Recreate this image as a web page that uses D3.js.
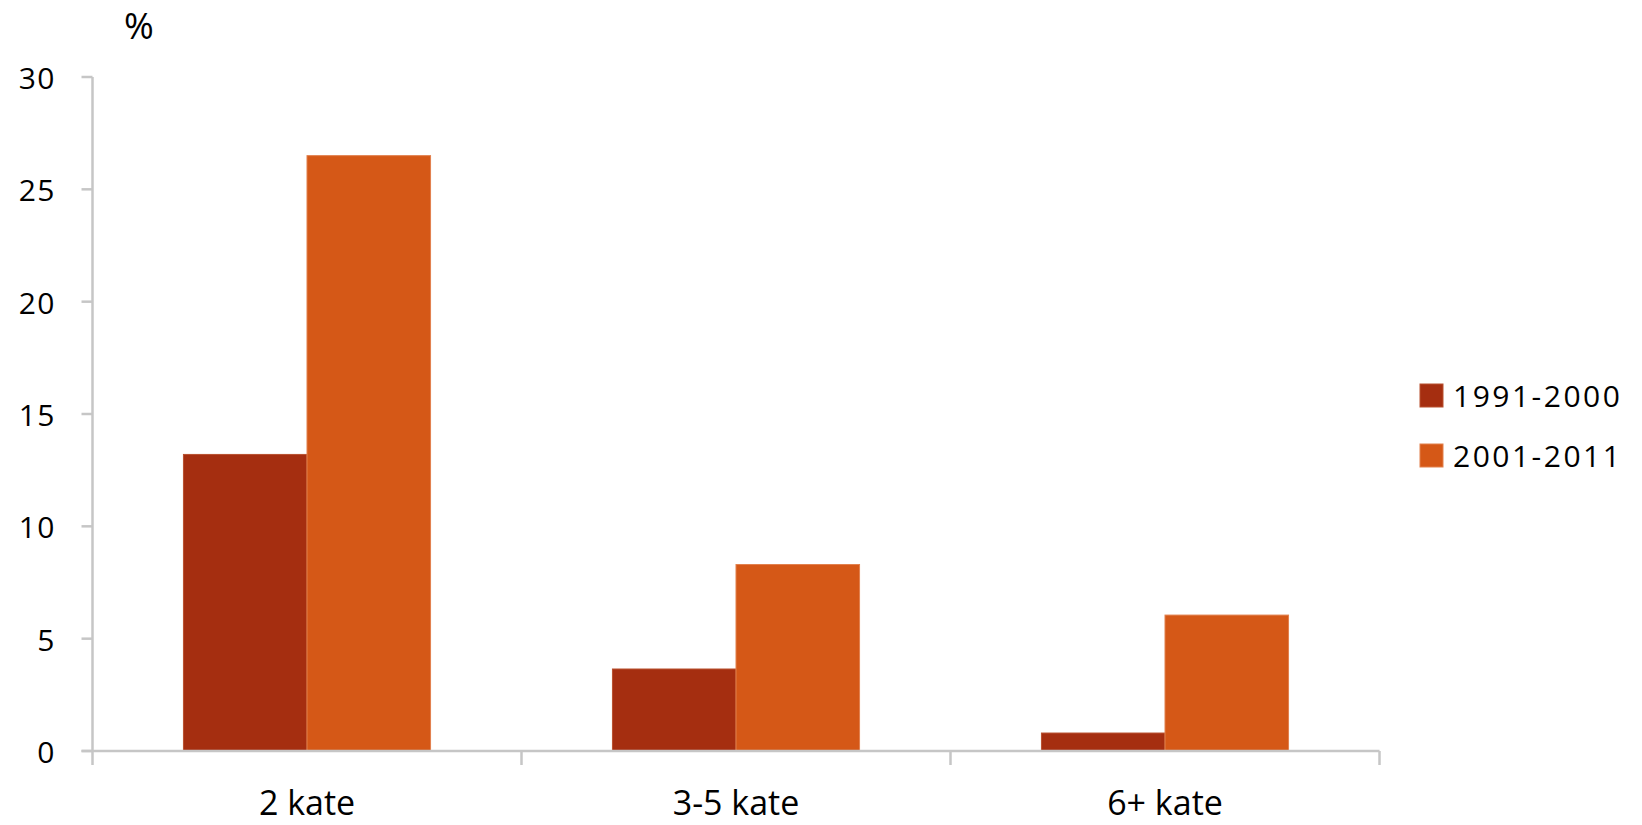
<!DOCTYPE html>
<html>
<head>
<meta charset="utf-8">
<script src="https://cdn.jsdelivr.net/npm/d3@7"></script>
<style>
  html, body { margin: 0; padding: 0; background: #fff; }
  svg { display: block; font-family: "Open Sans", "Noto Sans", sans-serif; }
</style>
</head>
<body>
<svg id="chart" width="1642" height="825"></svg>
<script>
const categories = ["2 kate", "3-5 kate", "6+ kate"];
const seriesNames = ["1991-2000", "2001-2011"];
const series1991 = [13.2, 3.65, 0.8];
const series2001 = [26.5, 8.3, 6.05];
const yTicks = [0, 5, 10, 15, 20, 25, 30];
const colors = ["#A52E10", "#D55817"];
const strokeColors = ["#B8502F", "#E2804D"];

(function () {
const svg = d3.select("#chart");
const plotLeft = 92.5, plotRight = 1379.5, plotTop = 77, plotBottom = 751;

const y = d3.scaleLinear().domain([0, 30]).range([plotBottom, plotTop]);
const xAll = d3.scaleBand().domain(categories).range([plotLeft, plotRight]).padding(0);
const x0 = d3.scaleBand().domain(categories).range([plotLeft, plotRight])
  .paddingInner(0.424).paddingOuter(0.212);
const x1 = d3.scaleBand().domain(seriesNames).range([0, x0.bandwidth()]).padding(0);

const gridColor = "#c6c6c6";

svg.append("line")
  .attr("x1", plotLeft).attr("x2", plotLeft)
  .attr("y1", y(30)).attr("y2", plotBottom + 14)
  .attr("stroke", gridColor).attr("stroke-width", 2.5);

svg.selectAll(".ytick").data(yTicks).enter().append("line")
  .attr("x1", plotLeft - 11).attr("x2", plotLeft)
  .attr("y1", d => y(d)).attr("y2", d => y(d))
  .attr("stroke", gridColor).attr("stroke-width", 2.5);

svg.selectAll(".ylab").data(yTicks).enter().append("text")
  .attr("x", 56).attr("y", d => y(d) + 12)
  .attr("text-anchor", "end")
  .attr("font-size", 30)
  .attr("font-weight", 500)
  .attr("letter-spacing", 1.5)
  .attr("fill", "#000")
  .text(d => d);

const rows = categories.map((c, i) => ({ cat: c, vals: [series1991[i], series2001[i]] }));
const groups = svg.selectAll(".grp").data(rows).enter().append("g")
  .attr("transform", d => `translate(${x0(d.cat)},0)`);
groups.selectAll("rect").data(d => d.vals.map((v, j) => ({ v, j }))).enter().append("rect")
  .attr("x", d => x1(seriesNames[d.j]))
  .attr("width", x1.bandwidth())
  .attr("y", d => y(d.v))
  .attr("height", d => plotBottom - y(d.v))
  .attr("fill", d => colors[d.j])
  .attr("stroke", d => strokeColors[d.j])
  .attr("stroke-width", 1);

svg.append("line")
  .attr("x1", plotLeft - 11).attr("x2", plotRight)
  .attr("y1", plotBottom).attr("y2", plotBottom)
  .attr("stroke", gridColor).attr("stroke-width", 2.5);

const bounds = categories.map(c => xAll(c)).concat([xAll(categories[categories.length - 1]) + xAll.bandwidth()]);
svg.selectAll(".xtick").data(bounds.slice(1)).enter().append("line")
  .attr("x1", d => d).attr("x2", d => d)
  .attr("y1", plotBottom).attr("y2", plotBottom + 14)
  .attr("stroke", gridColor).attr("stroke-width", 2.5);

svg.selectAll(".xlab").data(categories).enter().append("text")
  .attr("x", d => x0(d) + x0.bandwidth() / 2)
  .attr("y", 815)
  .attr("text-anchor", "middle")
  .attr("font-size", 34)
  .attr("font-weight", 500)
  .attr("fill", "#000")
  .text(d => d);

svg.append("text")
  .attr("x", 139).attr("y", 39)
  .attr("text-anchor", "middle")
  .attr("font-size", 36)
  .attr("fill", "#000")
  .text("%");

const legend = svg.selectAll(".leg").data(seriesNames).enter().append("g")
  .attr("transform", (d, i) => `translate(1420, ${384 + i * 60})`);
legend.append("rect")
  .attr("width", 23).attr("height", 23)
  .attr("fill", (d, i) => colors[i])
  .attr("stroke", (d, i) => strokeColors[i]).attr("stroke-width", 1);
legend.append("text")
  .attr("x", 33).attr("y", 23)
  .attr("font-size", 30)
  .attr("font-weight", 500)
  .attr("letter-spacing", 2.5)
  .attr("fill", "#000")
  .text(d => d);
})();
</script>
</body>
</html>
